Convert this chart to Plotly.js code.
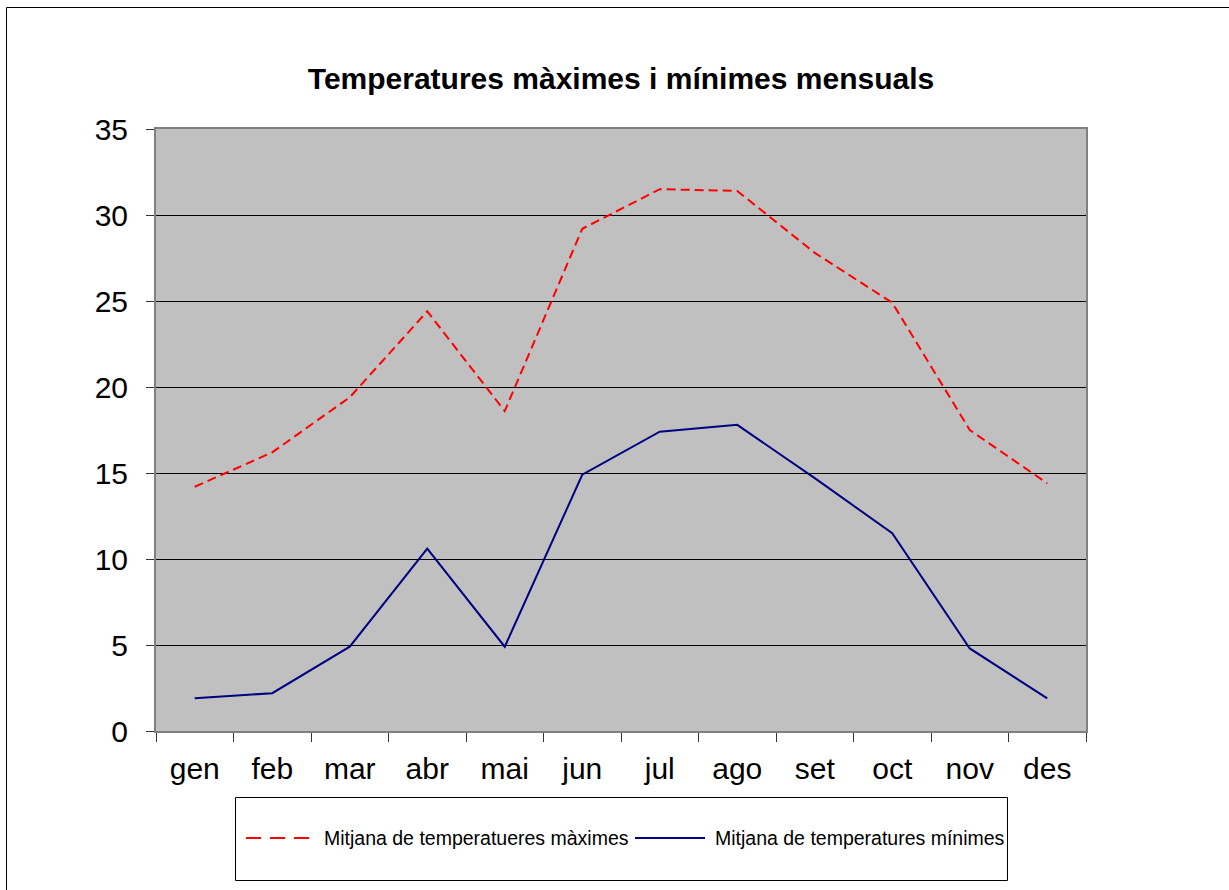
<!DOCTYPE html>
<html>
<head>
<meta charset="utf-8">
<script src="https://cdn.plot.ly/plotly-3.0.1.min.js"></script>
<style>html,body{margin:0;padding:0;background:#fff;}#chart{width:1229px;height:890px;}</style>
</head>
<body>
<div id="chart"></div>
<script>
const months = ["gen","feb","mar","abr","mai","jun","jul","ago","set","oct","nov","des"];
const tempMax = [14.2, 16.2, 19.4, 24.4, 18.6, 29.2, 31.5, 31.4, 27.8, 24.9, 17.5, 14.4];
const tempMin = [1.9, 2.2, 4.9, 10.6, 4.9, 14.9, 17.4, 17.8, 14.7, 11.5, 4.8, 1.9];
const seriesNames = ["Mitjana de temperatueres màximes", "Mitjana de temperatures mínimes"];
const chartTitle = "Temperatures màximes i mínimes mensuals";

const W = 1229, H = 890;
const L = 156, R = 1086, T = 129, B = 731;
const px = x => (x - L) / (R - L);
const py = y => 1 - (y - T) / (B - T);

const FONT = '"Liberation Sans", Arial, sans-serif';

const traces = [
  {x: months, y: tempMax, type: 'scatter', mode: 'lines', name: seriesNames[0],
   line: {color: '#FF0000', width: 2, dash: '9px,5px'}, hoverinfo: 'x+y'},
  {x: months, y: tempMin, type: 'scatter', mode: 'lines', name: seriesNames[1],
   line: {color: '#000080', width: 2}, hoverinfo: 'x+y'}
];

const layout = {
  width: W, height: H,
  margin: {l: L, r: W - R, t: T, b: H - B, pad: 0},
  paper_bgcolor: '#FFFFFF',
  plot_bgcolor: '#C0C0C0',
  showlegend: false,
  font: {family: FONT, color: '#000'},
  title: {text: '<b>' + chartTitle + '</b>', font: {family: FONT, size: 30, color: '#000'},
          x: 0.5, xref: 'paper', xanchor: 'center', y: 1 - 78 / H, yref: 'container', yanchor: 'middle'},
  xaxis: {
    type: 'category', range: [-0.5, months.length - 0.5], autorange: false,
    tickson: 'boundaries', ticks: 'outside', ticklen: 9, tickwidth: 1, tickcolor: '#333',
    showgrid: false, showline: true, linecolor: '#808080', linewidth: 2, mirror: true,
    tickfont: {family: FONT, size: 30, color: '#000'}, ticklabelstandoff: 10, fixedrange: true
  },
  yaxis: {
    range: [0, 35], dtick: 5, tick0: 0, ticks: 'outside', ticklen: 8, tickwidth: 1, tickcolor: '#333',
    showgrid: true, gridcolor: '#000000', gridwidth: 1, zeroline: false,
    showline: true, linecolor: '#808080', linewidth: 2, mirror: true,
    tickfont: {family: FONT, size: 30, color: '#000'}, ticklabelstandoff: 12, fixedrange: true
  },
  shapes: [
    // outer chart frame (top and left visible)
    {type: 'line', xref: 'paper', yref: 'paper', x0: px(6.5), x1: px(1300), y0: py(7.5), y1: py(7.5),
     line: {color: '#000', width: 1}},
    {type: 'line', xref: 'paper', yref: 'paper', x0: px(6.5), x1: px(6.5), y0: py(7.5), y1: py(1000),
     line: {color: '#000', width: 1}},
    // legend box
    {type: 'rect', xref: 'paper', yref: 'paper', x0: px(235.5), x1: px(1007.5), y0: py(797.5), y1: py(880.5),
     line: {color: '#000', width: 1}, fillcolor: 'rgba(0,0,0,0)'},
    // legend samples
    {type: 'line', xref: 'paper', yref: 'paper', x0: px(246), x1: px(314), y0: py(838), y1: py(838),
     line: {color: '#FF0000', width: 2, dash: '15px,9px'}},
    {type: 'line', xref: 'paper', yref: 'paper', x0: px(635), x1: px(705), y0: py(838), y1: py(838),
     line: {color: '#000080', width: 2}}
  ],
  annotations: [
    {xref: 'paper', yref: 'paper', x: px(322), y: py(838), xanchor: 'left', yanchor: 'middle',
     text: seriesNames[0], showarrow: false, font: {family: FONT, size: 19.5, color: '#000'}},
    {xref: 'paper', yref: 'paper', x: px(713), y: py(838), xanchor: 'left', yanchor: 'middle',
     text: seriesNames[1], showarrow: false, font: {family: FONT, size: 19.5, color: '#000'}}
  ]
};

Plotly.newPlot('chart', traces, layout, {displayModeBar: false, staticPlot: true});
</script>
</body>
</html>
